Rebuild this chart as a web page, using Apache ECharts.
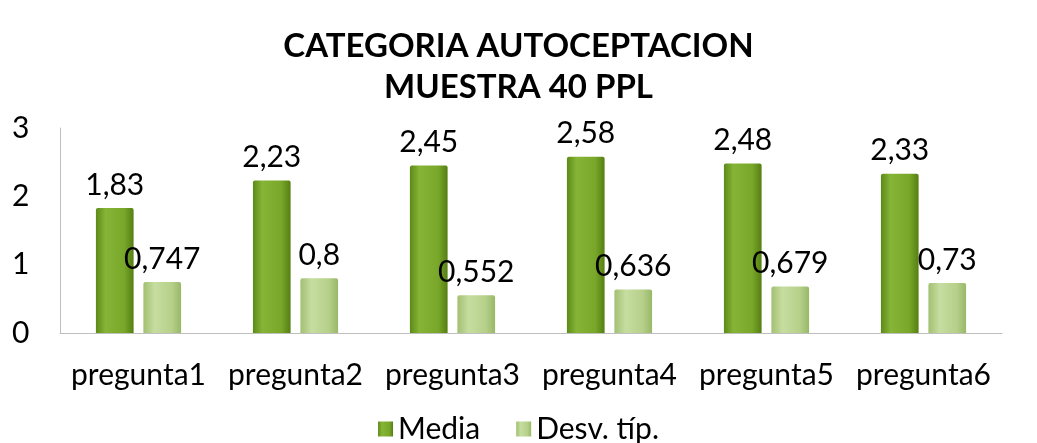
<!DOCTYPE html>
<html><head><meta charset="utf-8">
<script src="https://cdn.jsdelivr.net/npm/echarts@6/dist/echarts.min.js"></script>
<style>html,body{margin:0;padding:0;background:#fff}#c{width:1037px;height:443px}</style>
</head><body><div id="c"></div>
<script>
const categories = ['pregunta1','pregunta2','pregunta3','pregunta4','pregunta5','pregunta6'];
const media = [1.83, 2.23, 2.45, 2.58, 2.48, 2.33];
const desv = [0.747, 0.8, 0.552, 0.636, 0.679, 0.73];
const yTicks = [0, 1, 2, 3];
const titleLines = ['CATEGORIA AUTOCEPTACION', 'MUESTRA 40 PPL'];
const seriesNames = ['Media', 'Desv. típ.'];

const FONT = 'Lato';
const fmt = v => String(v).replace('.', ',');
const chart = echarts.init(document.getElementById('c'), null, {renderer: 'canvas'});
chart.setOption({
  animation: false,
  textStyle: {fontFamily: FONT},
  title: {
    text: titleLines.join('\n'), left: 'center', top: 21,
    textStyle: {fontFamily: FONT, fontWeight: 'bold', fontSize: 33, lineHeight: 41, color: '#000'}
  },
  legend: {
    data: seriesNames, bottom: -6, left: 'center', icon: 'rect', itemWidth: 15, itemHeight: 15, itemGap: 36,
    textStyle: {fontFamily: FONT, fontSize: 30, color: '#000'}
  },
  grid: {left: 60, right: 35, top: 128, bottom: 110},
  xAxis: {
    type: 'category', data: categories,
    axisLine: {lineStyle: {color: '#bfbfbf'}}, axisTick: {show: false},
    axisLabel: {interval: 0, fontFamily: FONT, fontSize: 30, color: '#000', margin: 27}
  },
  yAxis: {
    type: 'value', min: yTicks[0], max: yTicks[yTicks.length - 1], interval: 1,
    axisLine: {show: true, lineStyle: {color: '#bfbfbf'}}, axisTick: {show: false},
    splitLine: {show: false},
    axisLabel: {fontFamily: FONT, fontSize: 30, color: '#000', margin: 48, align: 'left'}
  },
  series: [
    {
      name: seriesNames[0], type: 'bar', data: media, barWidth: '24%', barGap: '26%',
      itemStyle: {
        color: new echarts.graphic.LinearGradient(0, 0, 1, 0, [
          {offset: 0, color: '#5c8a18'}, {offset: 0.25, color: '#86b436'},
          {offset: 0.75, color: '#79a72a'}, {offset: 1, color: '#557f12'}
        ]),
        borderRadius: [2, 2, 0, 0]
      },
      label: {show: true, position: 'top', distance: 8, fontFamily: FONT, fontSize: 30, color: '#000', formatter: p => fmt(p.value)}
    },
    {
      name: seriesNames[1], type: 'bar', data: desv, barWidth: '24%',
      itemStyle: {
        color: new echarts.graphic.LinearGradient(0, 0, 1, 0, [
          {offset: 0, color: '#a2c072'}, {offset: 0.3, color: '#c6dda0'},
          {offset: 0.75, color: '#b6d08a'}, {offset: 1, color: '#98b868'}
        ]),
        borderRadius: [2, 2, 0, 0]
      },
      label: {show: true, position: 'top', distance: 8, fontFamily: FONT, fontSize: 30, color: '#000', formatter: p => fmt(p.value)}
    }
  ]
});
</script></body></html>
